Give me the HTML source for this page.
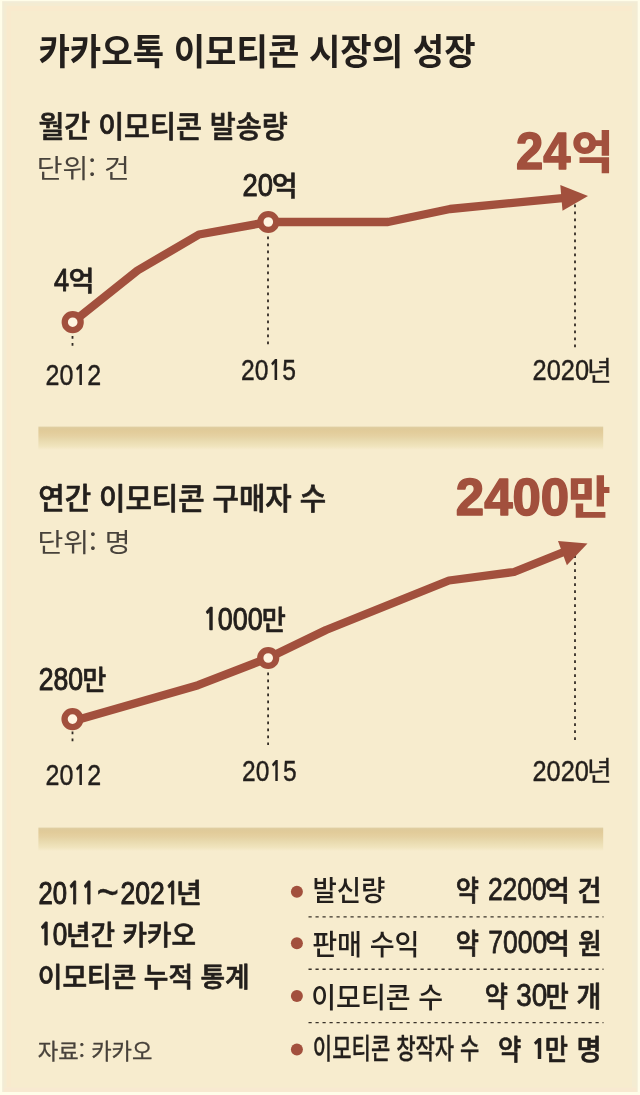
<!DOCTYPE html>
<html lang="ko">
<head>
<meta charset="utf-8">
<title>카카오톡 이모티콘 시장의 성장</title>
<style>
html,body{margin:0;padding:0;background:#fffde9;}
body{width:640px;height:1095px;overflow:hidden;font-family:"Liberation Sans","Noto Sans CJK KR",sans-serif;}
svg{display:block;}
</style>
</head>
<body>
<svg width="640" height="1095" viewBox="0 0 640 1095">
<defs>
<linearGradient id="bar" x1="0" y1="0" x2="0" y2="1">
<stop offset="0" stop-color="#dfcfa4"/>
<stop offset="0.1" stop-color="#dfca9a"/>
<stop offset="0.22" stop-color="#e2cc9a"/>
<stop offset="0.4" stop-color="#e5d1a2"/>
<stop offset="0.57" stop-color="#e8d9ad"/>
<stop offset="0.84" stop-color="#f0e4bd"/>
<stop offset="1" stop-color="#f7ecce"/>
</linearGradient>
</defs>
<rect x="0" y="0" width="640" height="1095" fill="#fffde9"/>
<rect x="2.2" y="1.2" width="635.5" height="1090.8" fill="#f2ecd6"/>
<rect x="4" y="3" width="632.5" height="1089" fill="#f4ecd2"/>
<rect x="6.5" y="6" width="625.5" height="1081.5" fill="#f9eacd"/>
<rect x="4" y="1087.5" width="632.5" height="4.5" fill="#f8e9d1"/>
<rect x="11" y="11" width="621" height="1076.5" fill="#f7ecce"/>
<rect x="38.4" y="426.6" width="564.8" height="23.4" fill="url(#bar)"/>
<rect x="38.4" y="827.6" width="564.8" height="23.4" fill="url(#bar)"/>
<g fill="none" stroke="#332c25" stroke-width="1.8" stroke-dasharray="2.7 4.3">
<path d="M72.5 336V347"/>
<path d="M268 236.5V345"/>
<path d="M575 204.5V348.5"/>
<path d="M72.5 731.5V741.5"/>
<path d="M268.1 672.6V745"/>
<path d="M575 555.3V742"/>
</g>
<g fill="none" stroke="#a2503d" stroke-width="8.3" stroke-linejoin="round" stroke-linecap="butt">
<path d="M72.7 322.2L137.5 270.5L199 234.5L268.3 222L388 222L450 209L565 197.8"/>
<path d="M72.5 721.2L198 685.2L268.2 658L326 630L449 580.5L514 572L565 551.5"/>
</g>
<path fill="#a2503d" d="M560.3 185L588 196L562.5 210.8Z"/>
<path fill="#a2503d" d="M558 541.1L587.5 543.4L566.9 565.3Z"/>
<g fill="#fff4e0" stroke="#a2503d" stroke-width="6.3">
<circle cx="72.7" cy="322.2" r="7.95"/>
<circle cx="268.3" cy="222" r="7.95"/>
<circle cx="72.5" cy="719.1" r="7.95"/>
<circle cx="268.2" cy="658" r="7.95"/>
</g>
<g fill="#a2503d">
<circle cx="296.9" cy="891.7" r="6"/>
<circle cx="296.9" cy="943.2" r="6"/>
<circle cx="296.9" cy="996" r="6"/>
<circle cx="296.9" cy="1049.4" r="6"/>
</g>
<g fill="none" stroke="#3a332a" stroke-width="1.4" stroke-dasharray="3.2 3.8">
<path d="M308.5 916.9H603.5"/>
<path d="M308.5 969.2H603.5"/>
<path d="M308.5 1022.6H603.5"/>
</g>
<g>
<text fill="#231f1c" xml:space="preserve"><tspan x="38.44" y="64.81" font-family='"Noto Sans CJK KR","NanumGothic",sans-serif' font-size="35.9" font-weight="700" textLength="437.12" lengthAdjust="spacingAndGlyphs">카카오톡 이모티콘 시장의 성장</tspan></text>
<text fill="#231f1c" xml:space="preserve"><tspan x="38.44" y="136.53" font-family='"Noto Sans CJK KR","NanumGothic",sans-serif' font-size="29.2" font-weight="500" stroke="#231f1c" stroke-width="0.7" stroke-linejoin="round" textLength="249.14" lengthAdjust="spacingAndGlyphs">월간 이모티콘 발송량</tspan></text>
<text fill="#48423b" xml:space="preserve"><tspan x="36.76" y="178.43" font-family='"Noto Sans CJK KR","NanumGothic",sans-serif' font-size="26.3" font-weight="400" textLength="93.01" lengthAdjust="spacingAndGlyphs">단위: 건</tspan></text>
<text fill="#a2503d" xml:space="preserve"><tspan x="516.1" y="168.53" font-family='"Liberation Sans","Noto Sans CJK KR",sans-serif' font-size="52.61" font-weight="700" stroke="#a2503d" stroke-width="1.6" stroke-linejoin="round" textLength="54.48" lengthAdjust="spacingAndGlyphs">24</tspan><tspan x="571.18" y="168.5" font-family='"Noto Sans CJK KR","NanumGothic",sans-serif' font-size="44.91" font-weight="900" textLength="42.07" lengthAdjust="spacingAndGlyphs">억</tspan></text>
<text fill="#231f1c" xml:space="preserve"><tspan x="242.45" y="196.06" font-family='"Liberation Sans","Noto Sans CJK KR",sans-serif' font-size="31.8" font-weight="400" stroke="#231f1c" stroke-width="1" stroke-linejoin="round" textLength="30.46" lengthAdjust="spacingAndGlyphs">20</tspan><tspan x="271.8" y="195.61" font-family='"Noto Sans CJK KR","NanumGothic",sans-serif' font-size="27.78" font-weight="500" stroke="#231f1c" stroke-width="0.6" stroke-linejoin="round" textLength="25.95" lengthAdjust="spacingAndGlyphs">억</tspan></text>
<text fill="#231f1c" xml:space="preserve"><tspan x="54.07" y="291.16" font-family='"Liberation Sans","Noto Sans CJK KR",sans-serif' font-size="31.8" font-weight="400" stroke="#231f1c" stroke-width="1" stroke-linejoin="round" textLength="15.12" lengthAdjust="spacingAndGlyphs">4</tspan><tspan x="68.61" y="290.66" font-family='"Noto Sans CJK KR","NanumGothic",sans-serif' font-size="27.78" font-weight="500" stroke="#231f1c" stroke-width="0.6" stroke-linejoin="round" textLength="26.07" lengthAdjust="spacingAndGlyphs">억</tspan></text>
<text fill="#231f1c" xml:space="preserve"><tspan x="45.52" y="385.03" font-family='"Liberation Sans","Noto Sans CJK KR",sans-serif' font-size="30.37" font-weight="400" stroke="#231f1c" stroke-width="0.45" stroke-linejoin="round" textLength="55.65" lengthAdjust="spacingAndGlyphs">20<tspan font-family='"NanumGothic","Liberation Sans",sans-serif' font-size="27.76" font-weight="700" stroke-width="0.15">1</tspan>2</tspan></text>
<text fill="#231f1c" xml:space="preserve"><tspan x="241.12" y="380.48" font-family='"Liberation Sans","Noto Sans CJK KR",sans-serif' font-size="30.37" font-weight="400" stroke="#231f1c" stroke-width="0.45" stroke-linejoin="round" textLength="54.79" lengthAdjust="spacingAndGlyphs">20<tspan font-family='"NanumGothic","Liberation Sans",sans-serif' font-size="27.76" font-weight="700" stroke-width="0.15">1</tspan>5</tspan></text>
<text fill="#231f1c" xml:space="preserve"><tspan x="532.54" y="379.99" font-family='"Liberation Sans","Noto Sans CJK KR",sans-serif' font-size="30.37" font-weight="400" stroke="#231f1c" stroke-width="0.45" stroke-linejoin="round" textLength="56.48" lengthAdjust="spacingAndGlyphs">2020</tspan><tspan x="587.02" y="380.89" font-family='"Noto Sans CJK KR","NanumGothic",sans-serif' font-size="27.23" font-weight="400" stroke="#231f1c" stroke-width="0.3" stroke-linejoin="round" textLength="24.83" lengthAdjust="spacingAndGlyphs">년</tspan></text>
<text fill="#231f1c" xml:space="preserve"><tspan x="38.36" y="509.03" font-family='"Noto Sans CJK KR","NanumGothic",sans-serif' font-size="29.2" font-weight="500" stroke="#231f1c" stroke-width="0.7" stroke-linejoin="round" textLength="287.76" lengthAdjust="spacingAndGlyphs">연간 이모티콘 구매자 수</tspan></text>
<text fill="#48423b" xml:space="preserve"><tspan x="37.48" y="551.68" font-family='"Noto Sans CJK KR","NanumGothic",sans-serif' font-size="26.3" font-weight="400" textLength="93.14" lengthAdjust="spacingAndGlyphs">단위: 명</tspan></text>
<text fill="#a2503d" xml:space="preserve"><tspan x="455.83" y="515.27" font-family='"Liberation Sans","Noto Sans CJK KR",sans-serif' font-size="52.61" font-weight="700" stroke="#a2503d" stroke-width="1.6" stroke-linejoin="round" textLength="113.37" lengthAdjust="spacingAndGlyphs">2400</tspan><tspan x="568.17" y="514.35" font-family='"Noto Sans CJK KR","NanumGothic",sans-serif' font-size="44.91" font-weight="900" textLength="42.31" lengthAdjust="spacingAndGlyphs">만</tspan></text>
<text fill="#231f1c" xml:space="preserve"><tspan x="202.91" y="630.2" font-family='"Liberation Sans","Noto Sans CJK KR",sans-serif' font-size="31.8" font-weight="400" stroke="#231f1c" stroke-width="1" stroke-linejoin="round" textLength="59.77" lengthAdjust="spacingAndGlyphs"><tspan font-family='"NanumGothic","Liberation Sans",sans-serif' font-size="29.06" font-weight="700" stroke-width="0.7">1</tspan>000</tspan><tspan x="261.72" y="629.66" font-family='"Noto Sans CJK KR","NanumGothic",sans-serif' font-size="27.78" font-weight="500" stroke="#231f1c" stroke-width="0.6" stroke-linejoin="round" textLength="24.07" lengthAdjust="spacingAndGlyphs">만</tspan></text>
<text fill="#231f1c" xml:space="preserve"><tspan x="38.69" y="690.18" font-family='"Liberation Sans","Noto Sans CJK KR",sans-serif' font-size="31.8" font-weight="400" stroke="#231f1c" stroke-width="1" stroke-linejoin="round" textLength="44.42" lengthAdjust="spacingAndGlyphs">280</tspan><tspan x="82.13" y="689.96" font-family='"Noto Sans CJK KR","NanumGothic",sans-serif' font-size="27.78" font-weight="500" stroke="#231f1c" stroke-width="0.6" stroke-linejoin="round" textLength="24.07" lengthAdjust="spacingAndGlyphs">만</tspan></text>
<text fill="#231f1c" xml:space="preserve"><tspan x="45.52" y="785.03" font-family='"Liberation Sans","Noto Sans CJK KR",sans-serif' font-size="30.37" font-weight="400" stroke="#231f1c" stroke-width="0.45" stroke-linejoin="round" textLength="55.65" lengthAdjust="spacingAndGlyphs">20<tspan font-family='"NanumGothic","Liberation Sans",sans-serif' font-size="27.76" font-weight="700" stroke-width="0.15">1</tspan>2</tspan></text>
<text fill="#231f1c" xml:space="preserve"><tspan x="242.07" y="780.73" font-family='"Liberation Sans","Noto Sans CJK KR",sans-serif' font-size="30.37" font-weight="400" stroke="#231f1c" stroke-width="0.45" stroke-linejoin="round" textLength="54.48" lengthAdjust="spacingAndGlyphs">20<tspan font-family='"NanumGothic","Liberation Sans",sans-serif' font-size="27.76" font-weight="700" stroke-width="0.15">1</tspan>5</tspan></text>
<text fill="#231f1c" xml:space="preserve"><tspan x="532.49" y="780.5" font-family='"Liberation Sans","Noto Sans CJK KR",sans-serif' font-size="30.37" font-weight="400" stroke="#231f1c" stroke-width="0.45" stroke-linejoin="round" textLength="56.31" lengthAdjust="spacingAndGlyphs">2020</tspan><tspan x="587.02" y="781.39" font-family='"Noto Sans CJK KR","NanumGothic",sans-serif' font-size="27.23" font-weight="400" stroke="#231f1c" stroke-width="0.3" stroke-linejoin="round" textLength="24.83" lengthAdjust="spacingAndGlyphs">년</tspan></text>
<text fill="#231f1c" xml:space="preserve"><tspan x="38.52" y="903.6" font-family='"Liberation Sans","Noto Sans CJK KR",sans-serif' font-size="32.03" font-weight="400" stroke="#231f1c" stroke-width="1.1" stroke-linejoin="round" textLength="56.88" lengthAdjust="spacingAndGlyphs">20<tspan font-family='"NanumGothic","Liberation Sans",sans-serif' font-size="29.27" font-weight="700" stroke-width="0.8">11</tspan></tspan><tspan x="96.52" y="908.18" font-family='"Liberation Sans","Noto Sans CJK KR",sans-serif' font-size="46.05" font-weight="400" stroke="#231f1c" stroke-width="0.3" stroke-linejoin="round" textLength="22.53" lengthAdjust="spacingAndGlyphs">~</tspan><tspan x="120.58" y="903.59" font-family='"Liberation Sans","Noto Sans CJK KR",sans-serif' font-size="32.03" font-weight="400" stroke="#231f1c" stroke-width="1.1" stroke-linejoin="round" textLength="58.86" lengthAdjust="spacingAndGlyphs">202<tspan font-family='"NanumGothic","Liberation Sans",sans-serif' font-size="29.27" font-weight="700" stroke-width="0.8">1</tspan></tspan><tspan x="176.03" y="902.65" font-family='"Noto Sans CJK KR","NanumGothic",sans-serif' font-size="27.78" font-weight="500" stroke="#231f1c" stroke-width="0.7" stroke-linejoin="round" textLength="25.96" lengthAdjust="spacingAndGlyphs">년</tspan></text>
<text fill="#231f1c" xml:space="preserve"><tspan x="38.37" y="945.39" font-family='"Liberation Sans","Noto Sans CJK KR",sans-serif' font-size="32.03" font-weight="400" stroke="#231f1c" stroke-width="1.1" stroke-linejoin="round" textLength="29.01" lengthAdjust="spacingAndGlyphs"><tspan font-family='"NanumGothic","Liberation Sans",sans-serif' font-size="29.27" font-weight="700" stroke-width="0.8">1</tspan>0</tspan><tspan x="66.1" y="945.21" font-family='"Noto Sans CJK KR","NanumGothic",sans-serif' font-size="27.78" font-weight="500" stroke="#231f1c" stroke-width="0.7" stroke-linejoin="round" textLength="129.97" lengthAdjust="spacingAndGlyphs">년간 카카오</tspan></text>
<text fill="#231f1c" xml:space="preserve"><tspan x="37.86" y="987.11" font-family='"Noto Sans CJK KR","NanumGothic",sans-serif' font-size="27.78" font-weight="500" stroke="#231f1c" stroke-width="0.7" stroke-linejoin="round" textLength="211.88" lengthAdjust="spacingAndGlyphs">이모티콘 누적 통계</tspan></text>
<text fill="#48423b" xml:space="preserve"><tspan x="37.88" y="1059.45" font-family='"Noto Sans CJK KR","NanumGothic",sans-serif' font-size="21.09" font-weight="400" stroke="#48423b" stroke-width="0.3" stroke-linejoin="round" textLength="114.61" lengthAdjust="spacingAndGlyphs">자료: 카카오</tspan></text>
<text fill="#231f1c" xml:space="preserve"><tspan x="312.42" y="901.09" font-family='"Noto Sans CJK KR","NanumGothic",sans-serif' font-size="28.7" font-weight="500" textLength="73.02" lengthAdjust="spacingAndGlyphs">발신량</tspan></text>
<text fill="#231f1c" xml:space="preserve"><tspan x="455.66" y="900.58" font-family='"Noto Sans CJK KR","NanumGothic",sans-serif' font-size="28.26" font-weight="500" stroke="#231f1c" stroke-width="0.7" stroke-linejoin="round" textLength="23.21" lengthAdjust="spacingAndGlyphs">약</tspan> <tspan x="487.88" y="899.88" font-family='"Liberation Sans","Noto Sans CJK KR",sans-serif' font-size="31.79" font-weight="400" stroke="#231f1c" stroke-width="0.8" stroke-linejoin="round" textLength="58.98" lengthAdjust="spacingAndGlyphs">2200</tspan><tspan x="544.78" y="900.59" font-family='"Noto Sans CJK KR","NanumGothic",sans-serif' font-size="28.26" font-weight="500" stroke="#231f1c" stroke-width="0.7" stroke-linejoin="round" textLength="25.15" lengthAdjust="spacingAndGlyphs">억</tspan> <tspan x="577.41" y="900.83" font-family='"Noto Sans CJK KR","NanumGothic",sans-serif' font-size="28.26" font-weight="500" stroke="#231f1c" stroke-width="0.7" stroke-linejoin="round" textLength="23.91" lengthAdjust="spacingAndGlyphs">건</tspan></text>
<text fill="#231f1c" xml:space="preserve"><tspan x="312.16" y="954.93" font-family='"Noto Sans CJK KR","NanumGothic",sans-serif' font-size="28.7" font-weight="500" textLength="107.38" lengthAdjust="spacingAndGlyphs">판매 수익</tspan></text>
<text fill="#231f1c" xml:space="preserve"><tspan x="455.66" y="953.58" font-family='"Noto Sans CJK KR","NanumGothic",sans-serif' font-size="28.26" font-weight="500" stroke="#231f1c" stroke-width="0.7" stroke-linejoin="round" textLength="23.21" lengthAdjust="spacingAndGlyphs">약</tspan> <tspan x="488.32" y="952.91" font-family='"Liberation Sans","Noto Sans CJK KR",sans-serif' font-size="31.79" font-weight="400" stroke="#231f1c" stroke-width="0.8" stroke-linejoin="round" textLength="58.98" lengthAdjust="spacingAndGlyphs">7000</tspan><tspan x="544.78" y="953.59" font-family='"Noto Sans CJK KR","NanumGothic",sans-serif' font-size="28.26" font-weight="500" stroke="#231f1c" stroke-width="0.7" stroke-linejoin="round" textLength="25.15" lengthAdjust="spacingAndGlyphs">억</tspan> <tspan x="578.29" y="953.59" font-family='"Noto Sans CJK KR","NanumGothic",sans-serif' font-size="28.26" font-weight="500" stroke="#231f1c" stroke-width="0.7" stroke-linejoin="round" textLength="23.36" lengthAdjust="spacingAndGlyphs">원</tspan></text>
<text fill="#231f1c" xml:space="preserve"><tspan x="311.27" y="1007.93" font-family='"Noto Sans CJK KR","NanumGothic",sans-serif' font-size="28.7" font-weight="500" textLength="131.84" lengthAdjust="spacingAndGlyphs">이모티콘 수</tspan></text>
<text fill="#231f1c" xml:space="preserve"><tspan x="484.75" y="1006.58" font-family='"Noto Sans CJK KR","NanumGothic",sans-serif' font-size="28.26" font-weight="500" stroke="#231f1c" stroke-width="0.7" stroke-linejoin="round" textLength="23.21" lengthAdjust="spacingAndGlyphs">약</tspan> <tspan x="516.13" y="1005.91" font-family='"Liberation Sans","Noto Sans CJK KR",sans-serif' font-size="31.79" font-weight="400" stroke="#231f1c" stroke-width="0.8" stroke-linejoin="round" textLength="31.09" lengthAdjust="spacingAndGlyphs">30</tspan><tspan x="545.38" y="1006.84" font-family='"Noto Sans CJK KR","NanumGothic",sans-serif' font-size="28.26" font-weight="500" stroke="#231f1c" stroke-width="0.7" stroke-linejoin="round" textLength="23.21" lengthAdjust="spacingAndGlyphs">만</tspan> <tspan x="576.51" y="1007.09" font-family='"Noto Sans CJK KR","NanumGothic",sans-serif' font-size="28.26" font-weight="500" stroke="#231f1c" stroke-width="0.7" stroke-linejoin="round" textLength="24.88" lengthAdjust="spacingAndGlyphs">개</tspan></text>
<text fill="#231f1c" xml:space="preserve"><tspan x="312.82" y="1059.3" font-family='"Noto Sans CJK KR","NanumGothic",sans-serif' font-size="28.7" font-weight="500" stroke="#231f1c" stroke-width="0.3" stroke-linejoin="round" textLength="166.64" lengthAdjust="spacingAndGlyphs">이모티콘 창작자 수</tspan></text>
<text fill="#231f1c" xml:space="preserve"><tspan x="498.06" y="1059.58" font-family='"Noto Sans CJK KR","NanumGothic",sans-serif' font-size="28.26" font-weight="500" stroke="#231f1c" stroke-width="0.7" stroke-linejoin="round" textLength="23.25" lengthAdjust="spacingAndGlyphs">약</tspan> <tspan x="531.13" y="1058.91" font-family='"Liberation Sans","Noto Sans CJK KR",sans-serif' font-size="31.79" font-weight="700" stroke="#231f1c" stroke-width="0.3" stroke-linejoin="round" textLength="15.44" lengthAdjust="spacingAndGlyphs"><tspan font-family='"NanumGothic","Liberation Sans",sans-serif' font-size="28.3" font-weight="800" stroke-width="0">1</tspan></tspan><tspan x="544.65" y="1059.84" font-family='"Noto Sans CJK KR","NanumGothic",sans-serif' font-size="28.26" font-weight="500" stroke="#231f1c" stroke-width="0.7" stroke-linejoin="round" textLength="23.21" lengthAdjust="spacingAndGlyphs">만</tspan> <tspan x="576.52" y="1059.58" font-family='"Noto Sans CJK KR","NanumGothic",sans-serif' font-size="28.26" font-weight="500" stroke="#231f1c" stroke-width="0.7" stroke-linejoin="round" textLength="25.15" lengthAdjust="spacingAndGlyphs">명</tspan></text>
</g>
</svg>
</body>
</html>
